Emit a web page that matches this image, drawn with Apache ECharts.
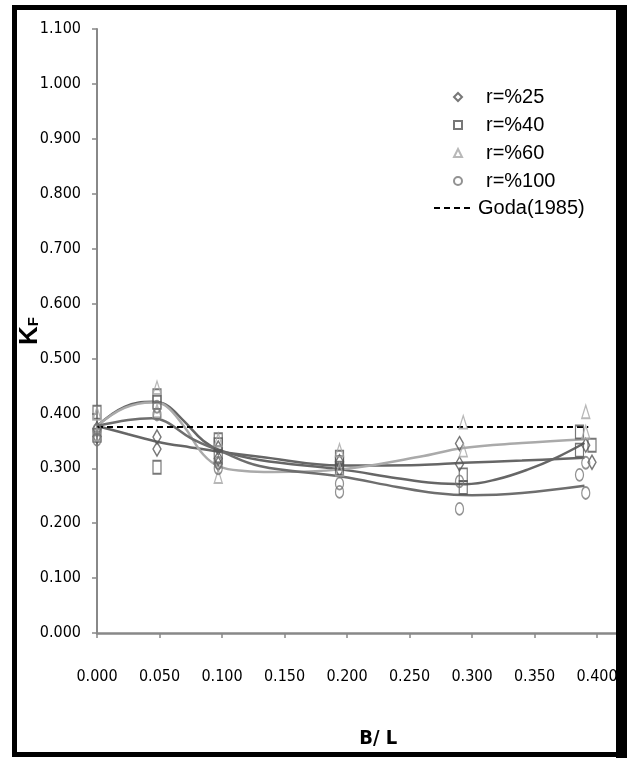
<!DOCTYPE html>
<html><head><meta charset="utf-8">
<script src="https://cdn.jsdelivr.net/npm/echarts@6/dist/echarts.min.js"></script>
<style>html,body{margin:0;padding:0;background:#fff}#c{width:627px;height:758px}</style>
</head><body><div id="c"></div>
<script>
// ---- data (x = B/L, y = K_F) ----
const r25 = [[0,0.372],[0,0.358],[0.048,0.357],[0.048,0.335],[0.097,0.337],[0.097,0.318],[0.097,0.308],[0.194,0.312],[0.194,0.298],[0.290,0.345],[0.290,0.308],[0.391,0.342],[0.396,0.311]];
const r40 = [[0,0.402],[0,0.360],[0.048,0.432],[0.048,0.420],[0.048,0.302],[0.097,0.352],[0.097,0.343],[0.097,0.322],[0.194,0.320],[0.194,0.310],[0.194,0.300],[0.293,0.288],[0.293,0.265],[0.386,0.366],[0.386,0.333],[0.396,0.342]];
const r60 = [[0,0.400],[0,0.362],[0.048,0.447],[0.048,0.405],[0.097,0.352],[0.097,0.285],[0.194,0.333],[0.194,0.298],[0.293,0.384],[0.293,0.333],[0.391,0.403],[0.391,0.366]];
const r100 = [[0,0.370],[0,0.352],[0.048,0.412],[0.048,0.398],[0.097,0.310],[0.097,0.300],[0.194,0.272],[0.194,0.257],[0.290,0.276],[0.290,0.226],[0.391,0.310],[0.386,0.288],[0.391,0.255]];
const goda = [[0,0.375],[0.393,0.375]];
// trend curves
const trend25 = [[0,0.377],[0.025,0.362],[0.049,0.348],[0.075,0.338],[0.098,0.330],[0.13,0.321],[0.195,0.305],[0.258,0.306],[0.293,0.310],[0.34,0.314],[0.39,0.319]];
const trend40 = [[0,0.377],[0.022,0.412],[0.044,0.421],[0.055,0.416],[0.07,0.385],[0.085,0.350],[0.098,0.333],[0.13,0.315],[0.195,0.298],[0.24,0.282],[0.27,0.273],[0.295,0.271],[0.32,0.280],[0.345,0.298],[0.368,0.320],[0.39,0.346]];
const trend60 = [[0,0.377],[0.022,0.410],[0.044,0.420],[0.055,0.414],[0.07,0.375],[0.085,0.325],[0.098,0.303],[0.118,0.295],[0.14,0.293],[0.195,0.298],[0.258,0.321],[0.293,0.337],[0.34,0.346],[0.39,0.353]];
const trend100 = [[0,0.377],[0.025,0.388],[0.044,0.391],[0.055,0.385],[0.075,0.355],[0.098,0.332],[0.13,0.304],[0.195,0.285],[0.24,0.266],[0.27,0.255],[0.3,0.251],[0.34,0.255],[0.39,0.268]];
const seriesNames = ['r=%25','r=%40','r=%60','r=%100'];
const godaName = 'Goda(1985)';
const xTitle = 'B/ L';

const narrow = "'Liberation Sans Narrow','DejaVu Sans Condensed',sans-serif";
const arial = "'Liberation Sans',Arial,sans-serif";
const hollow = c => ({color:'rgba(255,255,255,0)', borderColor:c, borderWidth:1.5});
const trend = (d,c) => ({type:'line', data:d, smooth:0.4, symbol:'none', silent:true, z:2,
  lineStyle:{color:c, width:2.5}});

const chart = echarts.init(document.getElementById('c'), null, {renderer:'canvas'});
chart.setOption({
  backgroundColor:'#fff',
  animation:false,
  grid:{left:97, top:29, width:562.5, height:604, containLabel:false, outerBoundsMode:'none'},
  xAxis:{type:'value', min:0, max:0.45, interval:0.05,
    name:xTitle, nameLocation:'middle', nameGap:96, nameMoveOverlap:false,
    nameTextStyle:{fontFamily:narrow, fontWeight:'bold', fontSize:20, color:'#000'},
    axisLine:{lineStyle:{color:'#888', width:2.5}},
    axisTick:{show:true, length:5, lineStyle:{color:'#888', width:1.5}},
    axisLabel:{margin:36, fontFamily:narrow, fontSize:16, color:'#000', formatter:v=>v.toFixed(3)},
    splitLine:{show:false}},
  yAxis:{type:'value', min:0, max:1.1, interval:0.1,
    name:'{k|K}{f|F}', nameLocation:'middle', nameRotate:90, nameGap:54, nameMoveOverlap:false,
    nameTextStyle:{rich:{k:{fontFamily:arial, fontWeight:'bold', fontSize:26, color:'#000'},
                         f:{fontFamily:arial, fontWeight:'bold', fontSize:15, color:'#000', padding:[8,0,0,0]}}},
    axisLine:{show:true, lineStyle:{color:'#888', width:2}},
    axisTick:{show:true, length:5, lineStyle:{color:'#888', width:1.5}},
    axisLabel:{margin:16, fontFamily:narrow, fontSize:16, color:'#000', formatter:v=>v.toFixed(3)},
    splitLine:{show:false}},
  legend:[{data:seriesNames, orient:'vertical', left:453, top:87, padding:0, itemWidth:8, itemHeight:8, itemGap:8,
      textStyle:{fontFamily:arial, fontSize:20, lineHeight:20, color:'#000', padding:[0,0,0,19]}},
    {data:[godaName], orient:'vertical', left:433, top:198, padding:0, itemWidth:39, itemHeight:8,
      itemStyle:{opacity:0},
      textStyle:{fontFamily:arial, fontSize:20, lineHeight:20, color:'#000'}}],
  series:[
    trend(trend25,'#666'), trend(trend40,'#666'), trend(trend60,'#aaa'), trend(trend100,'#6e6e6e'),
    {type:'line', name:godaName, data:goda, symbol:'none', z:3, lineStyle:{color:'#000', width:2, type:[6,4]}, itemStyle:{color:'#000'}},
    {type:'scatter', name:seriesNames[0], data:r25, symbol:'diamond', symbolSize:[8,14], z:4, itemStyle:hollow('#555')},
    {type:'scatter', name:seriesNames[1], data:r40, symbol:'rect', symbolSize:[8,13], z:4, itemStyle:hollow('#555')},
    {type:'scatter', name:seriesNames[2], data:r60, symbol:'triangle', symbolSize:[8,13], z:4, itemStyle:hollow('#a6a6a6')},
    {type:'scatter', name:seriesNames[3], data:r100, symbol:'circle', symbolSize:[8,12], z:4, itemStyle:hollow('#777')}
  ],
  graphic:[
    {type:'rect', z:100, silent:true, shape:{x:14.5, y:7.5, width:604, height:747}, style:{fill:'none', stroke:'#000', lineWidth:5}},
    {type:'rect', z:100, silent:true, shape:{x:616, y:5, width:11, height:753}, style:{fill:'#000'}}
  ]
});
</script></body></html>
